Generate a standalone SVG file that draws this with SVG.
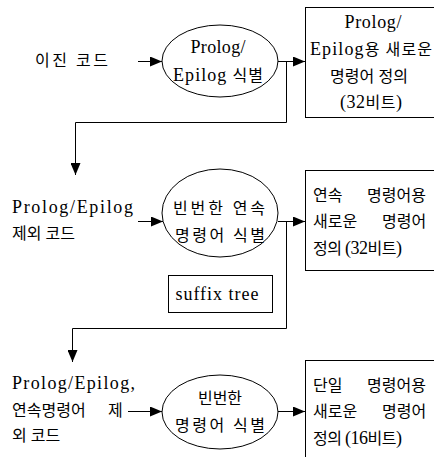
<svg xmlns="http://www.w3.org/2000/svg" width="434" height="457" viewBox="0 0 434 457">
<style>
text{font-family:"Liberation Serif","Noto Sans CJK KR",serif;font-size:16px;fill:#000}
.l{font-size:18px}
.c{text-anchor:middle}
.shape{fill:#fff;stroke:#000;stroke-width:1}
.conn{fill:none;stroke:#000;stroke-width:1}
</style>
<defs>
<marker id="ah" markerUnits="userSpaceOnUse" markerWidth="12" markerHeight="10" refX="12" refY="5" orient="auto">
<path d="M0,0 L12,5 L0,10 z" fill="#000"/>
</marker>
</defs>
<rect width="434" height="457" fill="#fff"/>
<g id="connectors">
<path class="conn" d="M138,61.5 H162" marker-end="url(#ah)"/>
<path class="conn" d="M278,61.5 H305" marker-end="url(#ah)"/>
<path class="conn" d="M286.5,61.5 V122.5 H75.5 V175" marker-end="url(#ah)"/>
<path class="conn" d="M138,221.5 H163" marker-end="url(#ah)"/>
<path class="conn" d="M278,221.5 H305" marker-end="url(#ah)"/>
<path class="conn" d="M286.5,221.5 V328.5 H72.5 V362" marker-end="url(#ah)"/>
<path class="conn" d="M128,411.5 H162" marker-end="url(#ah)"/>
<path class="conn" d="M278,411.5 H305" marker-end="url(#ah)"/>
</g>
<g id="in1"><text x="35" y="66" textLength="73">이진 코드</text></g>
<g id="e1"><ellipse class="shape" cx="220" cy="61" rx="58" ry="36"/>
<text class="c l" x="218" y="53" textLength="55">Prolog/</text>
<text class="c" x="218" y="81" textLength="90"><tspan class="l">Epilog</tspan> 식별</text></g>
<g id="b1"><rect class="shape" x="305.5" y="7.5" width="140" height="110"/>
<text class="c l" x="373" y="28" textLength="57">Prolog/</text>
<text class="c" x="371" y="55" textLength="122"><tspan class="l">Epilog</tspan>용 새로운</text>
<text class="c" x="369" y="82" textLength="78">명령어 정의</text>
<text class="c" x="371" y="108" textLength="62"><tspan class="l">(32</tspan>비트<tspan class="l">)</tspan></text></g>
<g id="in2"><text class="l" x="12" y="213" textLength="121">Prolog/Epilog</text>
<text x="12" y="239">제외 코드</text></g>
<g id="e2"><ellipse class="shape" cx="220" cy="213" rx="58" ry="44"/>
<text class="c" x="219" y="214" textLength="92">빈번한 연속</text>
<text class="c" x="220" y="241" textLength="90">명령어 식별</text></g>
<g id="b2"><rect class="shape" x="305.5" y="170.5" width="140" height="100"/>
<text y="201"><tspan x="313">연속</tspan><tspan x="367">명령어용</tspan></text>
<text y="227"><tspan x="313">새로운</tspan><tspan x="382">명령어</tspan></text>
<text x="313" y="254" textLength="89">정의 <tspan class="l">(32</tspan>비트<tspan class="l">)</tspan></text></g>
<g id="suffix"><rect class="shape" x="168.5" y="275.5" width="104" height="37"/>
<text class="c l" x="217" y="300" textLength="83">suffix tree</text></g>
<g id="in3"><text class="l" x="12" y="389" textLength="123">Prolog/Epilog,</text>
<text y="416"><tspan x="12">연속명령어</tspan><tspan x="108">제</tspan></text>
<text x="12" y="441">외 코드</text></g>
<g id="e3"><ellipse class="shape" cx="220" cy="412" rx="58" ry="37"/>
<text class="c" x="220" y="404">빈번한</text>
<text class="c" x="220" y="431" textLength="90">명령어 식별</text></g>
<g id="b3"><rect class="shape" x="305.5" y="360.5" width="140" height="110"/>
<text y="391"><tspan x="313">단일</tspan><tspan x="367">명령어용</tspan></text>
<text y="417"><tspan x="313">새로운</tspan><tspan x="382">명령어</tspan></text>
<text x="313" y="444" textLength="89">정의 <tspan class="l">(16</tspan>비트<tspan class="l">)</tspan></text></g>
</svg>
